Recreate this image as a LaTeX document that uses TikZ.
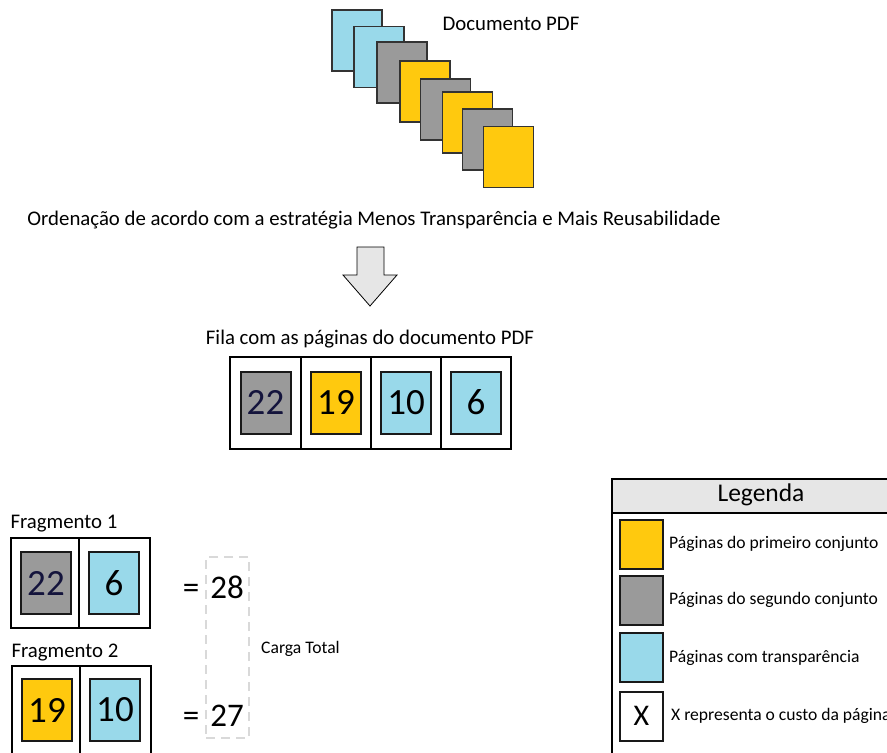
\documentclass[tikz,border=0pt]{standalone}
\usepackage{fontspec}
\setmainfont{Carlito}
\definecolor{pblue}{HTML}{99D9EA}
\definecolor{pgray}{HTML}{9A9A9A}
\definecolor{pyellow}{HTML}{FFC90E}
\definecolor{hdr}{HTML}{E6E6E6}
\definecolor{navy}{HTML}{14143C}
\begin{document}
\begin{tikzpicture}[x=1pt,y=-1pt,
  stackpage/.style={draw=black!80, line width=1.3pt, minimum width=50pt, minimum height=61pt, inner sep=0pt},
  cell/.style={draw=black, line width=1.8pt, minimum height=92pt, inner sep=0pt},
  numbox/.style={draw=black!90, line width=2pt, minimum width=50pt, minimum height=62pt, inner sep=0pt, font=\fontsize{37}{40}\selectfont},
  swatch/.style={draw=black!90, line width=2pt, minimum width=43pt, minimum height=49pt, inner sep=0pt},
  big/.style={font=\fontsize{20.8}{24}\selectfont},
  small/.style={font=\fontsize{17.6}{20}\selectfont, anchor=west, inner sep=0pt},
  total/.style={font=\fontsize{33}{36}\selectfont, anchor=base, inner sep=0pt},
]
\clip (0,0) rectangle (887,753);
\fill[white] (0,0) rectangle (887,753);

% stack of pages
\node[stackpage, fill=pblue]   (s1) at (357,40.5) {};
\node[stackpage, fill=pblue]   (s2) at (379,57) {};
\node[stackpage, fill=pgray]   (s3) at (402,72.5) {};
\node[stackpage, fill=pyellow] (s4) at (425,91.5) {};
\node[stackpage, fill=pgray]   (s5) at (445.5,109.5) {};
\node[stackpage, fill=pyellow] (s6) at (467.5,122.5) {};
\node[stackpage, fill=pgray]   (s7) at (487.5,139.5) {};
\node[stackpage, fill=pyellow] (s8) at (508.5,157) {};
\node[big] (doc) at (511,24) {Documento PDF};

\node[big] (ord) at (374,220) {Ordenação de acordo com a estratégia Menos Transparência e Mais Reusabilidade};

% big arrow
\draw[fill=hdr, draw=black, line width=0.8pt] (357,247) -- (384,247) -- (384,275) -- (397,275) -- (370,306) -- (343,275) -- (357,275) -- cycle;

\node[big] (fila) at (370,339) {Fila com as páginas do documento PDF};

% queue
\node[cell, minimum width=71pt] (q1) at (265.5,403) {};
\node[cell, minimum width=70pt] (q2) at (336,403) {};
\node[cell, minimum width=70pt] (q3) at (406,403) {};
\node[cell, minimum width=70pt] (q4) at (476,403) {};
\node[numbox, fill=pgray, text=navy] (n22) at (265.5,402.5) {22};
\node[numbox, fill=pyellow] (n19) at (336,402.5) {19};
\node[numbox, fill=pblue] (n10) at (406,402.5) {10};
\node[numbox, fill=pblue] (n6) at (476,402.5) {6};

% fragment 1
\node[big] (f1) at (64,524) {Fragmento 1};
\node[cell, minimum width=68pt, minimum height=90pt] (f1a) at (45,583) {};
\node[cell, minimum width=71pt, minimum height=90pt] (f1b) at (114.5,583) {};
\node[numbox, fill=pgray, text=navy] (f1n1) at (46,583) {22};
\node[numbox, fill=pblue] (f1n2) at (114,583) {6};

% fragment 2
\node[big] (f2) at (65,653) {Fragmento 2};
\node[cell, minimum width=68pt, minimum height=90pt] (f2a) at (46,711) {};
\node[cell, minimum width=71pt, minimum height=90pt] (f2b) at (115.5,711) {};
\node[numbox, fill=pyellow] (f2n1) at (47,710) {19};
\node[numbox, fill=pblue] (f2n2) at (115,710) {10};

% totals
\node[draw=black!15, line width=2pt, dash pattern=on 9pt off 6pt, minimum width=43pt, minimum height=181pt, inner sep=0pt] (tot) at (227.5,647.5) {};
\node[total] (eq1) at (191,598) {=};
\node[total] (t1) at (227,598) {28};
\node[total] (eq2) at (191,726) {=};
\node[total] (t2) at (227,726) {27};
\node[small] (carga) at (261,649) {Carga Total};

% legend
\draw[line width=1.8pt, fill=hdr] (612,479) rectangle (905,513);
\draw[line width=1.8pt] (612,513) rectangle (905,770);
\node[font=\fontsize{25.5}{28}\selectfont] (leg) at (761,495) {Legenda};
\node[swatch, fill=pyellow] (l1) at (641.5,544) {};
\node[swatch, fill=pgray] (l2) at (641.5,600) {};
\node[swatch, fill=pblue] (l3) at (641.5,657.5) {};
\node[swatch, fill=white, font=\fontsize{30}{34}\selectfont] (l4) at (641.5,716) {X};
\node[small] (lt1) at (669,544) {Páginas do primeiro conjunto};
\node[small] (lt2) at (669,600) {Páginas do segundo conjunto};
\node[small] (lt3) at (669,657.5) {Páginas com transparência};
\node[small] (lt4) at (671,716) {X representa o custo da página};
\end{tikzpicture}
\end{document}
